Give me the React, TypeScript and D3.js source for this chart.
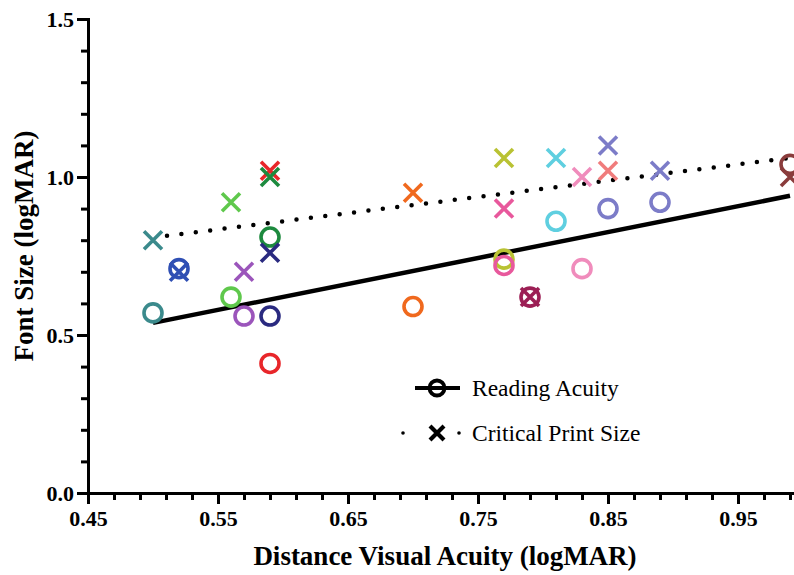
import React, { useEffect, useRef } from "react";
import * as d3 from "d3";

// one entry per participant
const colors = [
  "#3b8a8c", "#2f4fb4", "#5fc84c", "#9b55bb", "#2a2a80", "#e8262a",
  "#1d8a3e", "#f0691e", "#b9c233", "#e8589c", "#9c1f55", "#5fcfe0",
  "#f08cbc", "#7c7cc8", "#f07c7c", "#8a3c3c", "#7c7cc8",
];
const distanceAcuity = [
  0.5, 0.52, 0.56, 0.57, 0.59, 0.59, 0.59, 0.7, 0.77, 0.77, 0.79, 0.81,
  0.83, 0.85, 0.85, 0.99, 0.89,
];
const readingAcuity = [
  0.57, 0.71, 0.62, 0.56, 0.56, 0.41, 0.81, 0.59, 0.74, 0.72, 0.62, 0.86,
  0.71, 0.9, null, 1.04, 0.92,
];
const criticalPrintSize = [
  0.8, 0.7, 0.92, 0.7, 0.76, 1.02, 1.0, 0.95, 1.06, 0.9, 0.62, 1.06,
  1.0, 1.1, 1.02, 1.0, 1.02,
];
const xTicks = [0.45, 0.55, 0.65, 0.75, 0.85, 0.95];
const xMinor = [0.47, 0.49, 0.51, 0.53, 0.57, 0.59, 0.61, 0.63, 0.67, 0.69, 0.71, 0.73, 0.77, 0.79, 0.81, 0.83, 0.87, 0.89, 0.91, 0.93, 0.97, 0.99];
const yTicks = [0, 0.5, 1.0, 1.5];
const yMinor = [0.1, 0.2, 0.3, 0.4, 0.6, 0.7, 0.8, 0.9, 1.1, 1.2, 1.3, 1.4];

const width = 794;
const height = 575;
const margin = { top: 19, right: -9, bottom: 82, left: 88 };

// least squares line through the points
const fit = (xs: number[], ys: number[]) => {
  const mx = d3.mean(xs) as number;
  const my = d3.mean(ys) as number;
  const sxy = d3.sum(xs, (x, i) => (x - mx) * (ys[i] - my));
  const sxx = d3.sum(xs, (x) => (x - mx) * (x - mx));
  const slope = sxy / sxx;
  return (x: number) => my + slope * (x - mx);
};

const App = () => {
  const svgRef = useRef<SVGSVGElement>(null);

  useEffect(() => {
    const svg = d3.select(svgRef.current);
    svg.selectAll("*").remove();

    const x = d3
      .scaleLinear()
      .domain([0.45, 1.0])
      .range([margin.left, width - margin.right]);
    const y = d3
      .scaleLinear()
      .domain([0, 1.5])
      .range([height - margin.bottom, margin.top]);

    const serif = "'Liberation Serif', 'Times New Roman', serif";

    // regression lines
    const ra = readingAcuity
      .map((v, i) => ({ x: distanceAcuity[i], y: v, c: colors[i] }))
      .filter((d) => d.y !== null) as { x: number; y: number; c: string }[];
    const cps = criticalPrintSize.map((v, i) => ({
      x: distanceAcuity[i],
      y: v,
      c: colors[i],
    }));
    const [x0, x1] = d3.extent(distanceAcuity) as [number, number];
    const raFit = fit(ra.map((d) => d.x), ra.map((d) => d.y));
    const cpsFit = fit(cps.map((d) => d.x), cps.map((d) => d.y));

    svg
      .append("line")
      .attr("x1", x(x0))
      .attr("x2", x(x1))
      .attr("y1", y(raFit(x0)))
      .attr("y2", y(raFit(x1)))
      .attr("stroke", "#000")
      .attr("stroke-width", 4.5);
    const xs = x.invert(x(x0) + 14);
    svg
      .append("line")
      .attr("x1", x(xs))
      .attr("x2", x(x1))
      .attr("y1", y(cpsFit(xs)))
      .attr("y2", y(cpsFit(x1)))
      .attr("stroke", "#000")
      .attr("stroke-width", 4.5)
      .attr("stroke-linecap", "round")
      .attr("stroke-dasharray", "0 14.5");

    // markers
    const r = 9;
    svg
      .append("g")
      .selectAll("circle")
      .data(ra)
      .join("circle")
      .attr("cx", (d) => x(d.x))
      .attr("cy", (d) => y(d.y))
      .attr("r", r)
      .attr("fill", "none")
      .attr("stroke", (d) => d.c)
      .attr("stroke-width", 3.6);

    const s = 9;
    svg
      .append("g")
      .selectAll("path")
      .data(cps)
      .join("path")
      .attr(
        "d",
        (d) =>
          `M${x(d.x) - s},${y(d.y) - s}L${x(d.x) + s},${y(d.y) + s}M${x(d.x) - s},${y(d.y) + s}L${x(d.x) + s},${y(d.y) - s}`
      )
      .attr("fill", "none")
      .attr("stroke", (d) => d.c)
      .attr("stroke-width", 3.6);

    // axes
    const xAxis = svg
      .append("g")
      .attr("transform", `translate(0,${y(0)})`);
    xAxis
      .append("g")
      .call(d3.axisBottom(x).tickValues(xMinor).tickSize(7).tickFormat(() => ""));
    xAxis
      .append("g")
      .call(
        d3
          .axisBottom(x)
          .tickValues(xTicks)
          .tickSize(11)
          .tickSizeOuter(0)
          .tickFormat(d3.format(".2f"))
          .tickPadding(6)
      );

    const yAxis = svg
      .append("g")
      .attr("transform", `translate(${x(0.45)},0)`);
    yAxis
      .append("g")
      .call(d3.axisLeft(y).tickValues(yMinor).tickSize(7).tickFormat(() => ""));
    yAxis
      .append("g")
      .call(
        d3
          .axisLeft(y)
          .tickValues(yTicks)
          .tickSize(11)
          .tickSizeOuter(0)
          .tickFormat(d3.format(".1f"))
          .tickPadding(3)
      );

    svg.selectAll(".domain").attr("stroke", "#000").attr("stroke-width", 3);
    svg.selectAll(".tick line").attr("stroke", "#000").attr("stroke-width", 3);
    svg
      .selectAll(".tick text")
      .attr("fill", "#000")
      .style("font-family", serif)
      .style("font-weight", "bold")
      .style("font-size", "22px");

    // axis titles
    svg
      .append("text")
      .attr("x", 445)
      .attr("y", 565)
      .attr("text-anchor", "middle")
      .style("font-family", serif)
      .style("font-weight", "bold")
      .style("font-size", "27px")
      .text("Distance Visual Acuity (logMAR)");
    svg
      .append("text")
      .attr("transform", `translate(33,246) rotate(-90)`)
      .attr("text-anchor", "middle")
      .style("font-family", serif)
      .style("font-weight", "bold")
      .style("font-size", "27px")
      .text("Font Size (logMAR)");

    // legend
    const lg = svg.append("g").attr("transform", "translate(415,388)");
    lg.append("line")
      .attr("x1", 0)
      .attr("x2", 45)
      .attr("stroke", "#000")
      .attr("stroke-width", 4);
    lg.append("circle")
      .attr("cx", 22)
      .attr("r", 7.5)
      .attr("fill", "none")
      .attr("stroke", "#000")
      .attr("stroke-width", 3.8);
    lg.append("text")
      .attr("x", 57)
      .attr("y", 7.5)
      .style("font-family", serif)
      .style("font-size", "23.5px")
      .text("Reading Acuity");

    const lg2 = svg.append("g").attr("transform", "translate(415,433)");
    lg2
      .selectAll("circle")
      .data([-12, 44])
      .join("circle")
      .attr("cx", (d) => d)
      .attr("r", 1.8)
      .attr("fill", "#000");
    lg2
      .append("path")
      .attr("d", "M15,-7L29,7M15,7L29,-7")
      .attr("stroke", "#000")
      .attr("stroke-width", 4.2);
    lg2.append("text")
      .attr("x", 57)
      .attr("y", 7.5)
      .style("font-family", serif)
      .style("font-size", "23.5px")
      .text("Critical Print Size");
  }, []);

  return (
    <svg
      ref={svgRef}
      width={width}
      height={height}
      style={{ position: "absolute", left: 0, top: 0, background: "#fff" }}
    ></svg>
  );
};

export default App;
